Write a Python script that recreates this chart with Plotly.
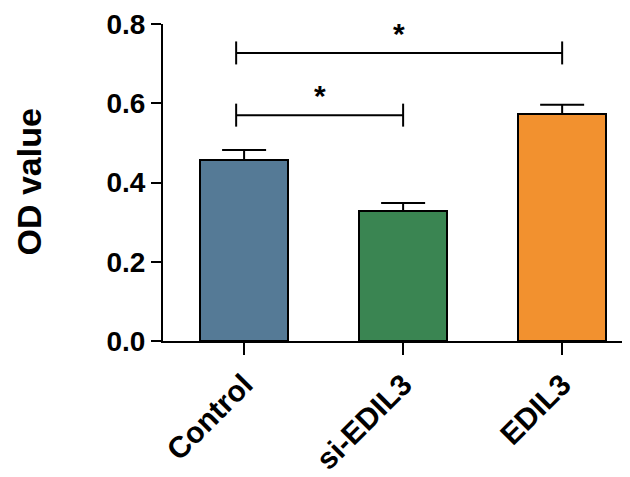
import plotly.graph_objects as go

categories = ["Control", "si-EDIL3", "EDIL3"]
od_values = [0.457, 0.328, 0.573]
od_errors = [0.025, 0.020, 0.023]
bar_colors = ["#557A96", "#3A8552", "#F2912F"]

# significance comparisons: (group a, group b, bracket height, label)
comp_a = [0, 0]
comp_b = [2, 1]
comp_y = [0.727, 0.570]
comp_label = ["*", "*"]

y_ticks = [0.0, 0.2, 0.4, 0.6, 0.8]
y_tick_text = ["0.0", "0.2", "0.4", "0.6", "0.8"]

FONT = "Liberation Sans, Arial, sans-serif"

fig = go.Figure()
fig.add_trace(go.Bar(
    x=list(range(len(categories))),
    y=od_values,
    width=0.555,
    marker=dict(color=bar_colors, line=dict(color="black", width=2)),
    error_y=dict(type="data", array=od_errors, arrayminus=[0]*len(od_errors),
                 symmetric=False, color="black", thickness=2, width=22),
    showlegend=False,
))

tick_h = 0.029
for a, b, yv, lab in zip(comp_a, comp_b, comp_y, comp_label):
    xa = a - 0.05
    xb = b
    fig.add_trace(go.Scatter(
        x=[xa, xa, None, xa, xb, None, xb, xb],
        y=[yv - tick_h, yv + tick_h, None, yv, yv, None, yv - tick_h, yv + tick_h],
        mode="lines", line=dict(color="black", width=2),
        showlegend=False, hoverinfo="skip", cliponaxis=False,
    ))
    fig.add_annotation(x=(xa + xb) / 2, y=yv + 0.05, text="<b>" + lab + "</b>",
                       showarrow=False, font=dict(size=30, color="black", family=FONT),
                       xanchor="center", yanchor="middle")

fig.add_annotation(xref="paper", yref="paper", x=(28 - 163) / 475, y=0.5,
                   text="<b>OD value</b>", textangle=-90, showarrow=False,
                   xanchor="center", yanchor="middle",
                   font=dict(size=34, color="black", family=FONT))

fig.update_layout(
    width=630, height=477,
    margin=dict(l=155, r=0, t=16, b=144),
    plot_bgcolor="white", paper_bgcolor="white",
    font=dict(family=FONT, color="black"),
    bargap=0,
)
fig.update_xaxes(
    range=[-0.51, 2.477],
    tickmode="array", tickvals=list(range(len(categories))),
    ticktext=["<b>" + c + "</b>" for c in categories],
    tickangle=-45, tickfont=dict(size=30, family=FONT, color="black"),
    showline=True, linecolor="black", linewidth=2,
    ticks="outside", ticklen=12, tickwidth=2, tickcolor="black",
    showgrid=False, zeroline=False,
)
fig.update_yaxes(
    range=[0, 0.8],
    tickmode="array", tickvals=y_ticks,
    ticktext=["<b>" + t + "</b>" for t in y_tick_text],
    tickfont=dict(size=28, family=FONT, color="black"),
    showline=True, linecolor="black", linewidth=2,
    ticks="outside", ticklen=10, tickwidth=2, tickcolor="black",
    showgrid=False, zeroline=False,
)

fig.write_html("out.html")
